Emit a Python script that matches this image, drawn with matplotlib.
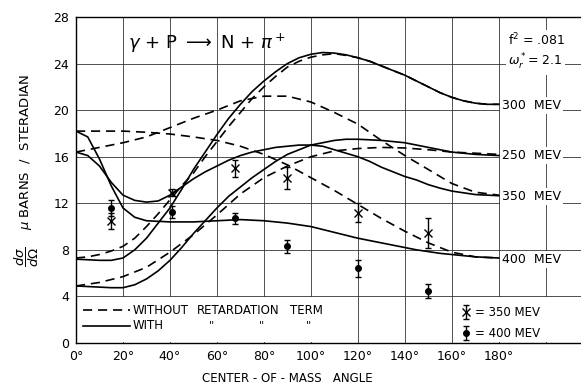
import matplotlib
matplotlib.use("Agg")
import matplotlib.pyplot as plt
from matplotlib.patches import Rectangle

# Kurven: Winkel (Grad) und Werte
ang5 = list(range(0, 181, 5))
ang10 = list(range(0, 181, 10))

s300 = [7.2, 7.15, 7.1, 7.1, 7.3, 8.0, 9.0, 10.3, 11.6, 13.2, 14.9, 16.4, 17.9,
        19.3, 20.5, 21.6, 22.5, 23.3, 24.0, 24.5, 24.8, 24.95, 24.9, 24.75, 24.5,
        24.2, 23.8, 23.4, 23.0, 22.5, 22.0, 21.5, 21.1, 20.8, 20.6, 20.5, 20.5]
d300 = [7.3, 7.4, 7.6, 7.9, 8.3, 9.0, 10.0, 11.1, 12.3, 13.5, 14.6, 16.0, 17.3,
        18.6, 19.8, 21.0, 22.0, 22.9, 23.7, 24.2, 24.55, 24.75, 24.85, 24.7, 24.5,
        24.2, 23.8, 23.4, 23.0, 22.5, 22.0, 21.5, 21.1, 20.8, 20.6, 20.5, 20.5]
s350 = [16.4, 16.1, 15.2, 13.8, 12.7, 12.25, 12.1, 12.2, 12.7, 13.4, 14.1, 14.7,
        15.2, 15.7, 16.1, 16.4, 16.6, 16.8, 16.9, 17.0, 17.0, 16.9, 16.6, 16.3,
        16.0, 15.6, 15.1, 14.7, 14.3, 14.0, 13.6, 13.3, 13.05, 12.9, 12.75, 12.7, 12.65]
s400 = [18.2, 17.7, 15.8, 13.5, 11.6, 10.8, 10.5, 10.45, 10.4, 10.4, 10.4, 10.45,
        10.5, 10.55, 10.6, 10.55, 10.5, 10.4, 10.3, 10.15, 10.0, 9.75, 9.5, 9.25,
        9.0, 8.8, 8.6, 8.4, 8.2, 8.0, 7.85, 7.7, 7.6, 7.5, 7.4, 7.35, 7.3]
s250 = [4.9, 4.85, 4.8, 4.75, 4.75, 5.0, 5.5, 6.2, 7.1, 8.2, 9.4, 10.5, 11.6,
        12.6, 13.4, 14.2, 14.9, 15.6, 16.2, 16.6, 17.0, 17.2, 17.4, 17.5, 17.5,
        17.45, 17.4, 17.3, 17.2, 17.0, 16.8, 16.6, 16.4, 16.3, 16.2, 16.15, 16.1]

d350 = [16.4, 16.8, 17.2, 17.7, 18.5, 19.3, 20.0, 20.8, 21.2, 21.2, 20.7, 19.8,
        18.8, 17.4, 16.1, 14.9, 13.7, 12.95, 12.7]
d400 = [18.2, 18.2, 18.2, 18.1, 17.95, 17.7, 17.4, 16.9, 16.2, 15.3, 14.2, 13.1,
        11.9, 10.7, 9.6, 8.6, 7.8, 7.4, 7.3]
d250 = [4.9, 5.2, 5.7, 6.5, 7.8, 9.3, 11.0, 12.8, 14.2, 15.2, 16.0, 16.5, 16.7,
        16.8, 16.75, 16.6, 16.4, 16.3, 16.2]

# Messpunkte
pt_ang = [15, 41, 67.5, 90, 120, 150]
x350 = [10.5, 12.9, 15.0, 14.2, 11.2, 9.45]
x350_err = [0.7, 0.3, 0.75, 0.95, 0.85, 1.3]
o400 = [11.6, 11.25, 10.7, 8.3, 6.4, 4.5]
o400_err = [0.7, 0.5, 0.5, 0.55, 0.75, 0.6]

xticks = [0, 20, 40, 60, 80, 100, 120, 140, 160, 180, 200]
xticklabels = ['0°', '20°', '40°', '60°', '80°', '100°', '120°', '140°', '160°', '180°', '']
yticks = [0, 4, 8, 12, 16, 20, 24, 28]

energy_labels = ['300  MEV', '250  MEV', '350  MEV', '400  MEV']
energy_y = [20.4, 16.1, 12.6, 7.2]

fig = plt.figure(figsize=(5.81, 3.87), dpi=100)
ax = fig.add_axes([76 / 581, 44 / 387, 505 / 581, 326 / 387])
ax.set_xlim(0, 215)
ax.set_ylim(0, 28)

ax.set_xticks(xticks)
ax.set_xticklabels(xticklabels, fontsize=9)
ax.set_yticks(yticks)
ax.set_yticklabels([str(v) for v in yticks], fontsize=9)
ax.tick_params(length=0, pad=5)
ax.grid(True, color='#333333', lw=0.6)
ax.spines['right'].set_visible(False)
for s in ['left', 'top', 'bottom']:
    ax.spines[s].set_linewidth(1.0)

# weisse Flaechen fuer die Legenden
ax.add_patch(Rectangle((0.3, 0.05), 116, 3.9, facecolor='white', edgecolor='none', zorder=1.6))
ax.add_patch(Rectangle((160.6, 0.05), 60, 3.9, facecolor='white', edgecolor='none', zorder=1.6))

lw = 1.2
dash = (5.5, 3.5)
for y in [s300, s350, s400, s250]:
    ax.plot(ang5, y, color='black', lw=lw, zorder=3)
ax.plot(ang5, d300, color='black', lw=lw, dashes=dash, zorder=3)
for y in [d350, d400, d250]:
    ax.plot(ang10, y, color='black', lw=lw, dashes=dash, zorder=3)

ax.errorbar(pt_ang, x350, yerr=x350_err, fmt='x', color='black', ms=6, mew=1.0,
            capsize=2.5, elinewidth=1.0, zorder=4)
ax.errorbar(pt_ang, o400, yerr=o400_err, fmt='o', color='black', ms=4,
            capsize=2.5, elinewidth=1.0, zorder=4)

box = dict(facecolor='white', edgecolor='none', pad=1.5)
for lab, yy in zip(energy_labels, energy_y):
    ax.text(181.5, yy, lab, fontsize=9, va='center', ha='left', bbox=box, zorder=5)
ax.text(184, 26.0, 'f$^2$ = .081', fontsize=9, va='center', ha='left', bbox=box, zorder=5)
ax.text(184, 24.1, r'$\omega_r^*$= 2.1', fontsize=9, va='center', ha='left', bbox=box, zorder=5)

ax.text(22, 25.7, r'$\gamma$ + P $\longrightarrow$ N + $\pi^+$', fontsize=13,
        va='center', ha='left', zorder=5)

# Legende links
ax.plot([3, 23], [2.8, 2.8], color='black', lw=lw, dashes=dash, zorder=3)
ax.plot([3, 23], [1.5, 1.5], color='black', lw=lw, zorder=3)
ax.text(24, 2.8, 'WITHOUT', fontsize=8.5, va='center', zorder=5)
ax.text(51.5, 2.8, 'RETARDATION', fontsize=8.5, va='center', zorder=5)
ax.text(91, 2.8, 'TERM', fontsize=8.5, va='center', zorder=5)
ax.text(24, 1.5, 'WITH', fontsize=8.5, va='center', zorder=5)
for xx in [57.5, 79, 99]:
    ax.text(xx, 1.5, '"', fontsize=8, va='center', ha='center', zorder=5)

# Legende rechts
ax.errorbar([166], [2.65], yerr=[0.6], fmt='x', color='black', ms=6, mew=1.0,
            capsize=2.5, elinewidth=1.0, zorder=4)
ax.errorbar([166], [0.85], yerr=[0.6], fmt='o', color='black', ms=4,
            capsize=2.5, elinewidth=1.0, zorder=4)
ax.text(170, 2.65, '= 350 MEV', fontsize=8.5, va='center', zorder=5)
ax.text(170, 0.85, '= 400 MEV', fontsize=8.5, va='center', zorder=5)

fig.text(0.047, 0.56, r'$\dfrac{d\sigma}{d\Omega}$    $\mu$ BARNS  /  STERADIAN', rotation=90,
         fontsize=9.5, ha='center', va='center')
fig.text(0.495, 0.022, 'CENTER - OF - MASS   ANGLE', fontsize=8.5, ha='center', va='center')

fig.savefig('out.png', dpi=100)
